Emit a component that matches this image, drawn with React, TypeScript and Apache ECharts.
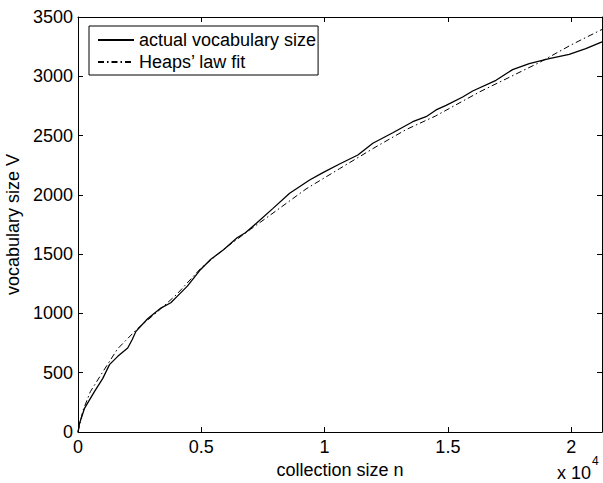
import React, { useEffect, useRef } from "react";
import * as echarts from "echarts";

const actualN = [0, 67, 269, 672, 1000, 1277, 1613, 2016, 2200, 2352, 2823, 3360, 3763, 4032, 4435, 4973, 5376, 5914, 6452, 6788, 7234, 7908, 8583, 9393, 9933, 10607, 11349, 11957, 12766, 13576, 14116, 14521, 14926, 15600, 16005, 16951, 17624, 18300, 19109, 19919, 20594, 21250];
const actualV = [0, 76, 202, 343, 450, 568, 638, 708, 780, 849, 955, 1045, 1090, 1146, 1230, 1371, 1455, 1539, 1638, 1680, 1760, 1886, 2013, 2125, 2187, 2260, 2336, 2435, 2524, 2617, 2659, 2716, 2755, 2825, 2876, 2966, 3056, 3106, 3148, 3185, 3233, 3290];

const fitN = [0, 200, 500, 1000, 1600, 2400, 3200, 4000, 5000, 6000, 7000, 7800, 9250, 10600, 12000, 13300, 14500, 16300, 18700, 20000, 21250];
const fitV = [0, 180, 340, 505, 700, 870, 1010, 1160, 1385, 1556, 1710, 1830, 2050, 2220, 2395, 2550, 2665, 2870, 3115, 3265, 3395];

const xTicks = [0, 5000, 10000, 15000, 20000];
const yTicks = [0, 500, 1000, 1500, 2000, 2500, 3000, 3500];

const seriesNames = ["actual vocabulary size", "Heaps\u2019 law fit"];

const FONT = "Liberation Sans, Arial, Helvetica, sans-serif";

export default function App() {
  const ref = useRef<HTMLDivElement>(null);
  useEffect(() => {
    if (!ref.current) return;
    const chart = echarts.init(ref.current, null, { renderer: "svg" });
    const xMin = xTicks[0];
    const xMax = 21250;
    const yMin = yTicks[0];
    const yMax = yTicks[yTicks.length - 1];
    const axisLine = { show: true, onZero: false, lineStyle: { color: "#000", width: 1 } };
    const axisTick = { show: true, inside: true, length: 5, lineStyle: { color: "#000", width: 1 } };
    const labelStyle = { color: "#000", fontSize: 18, fontFamily: FONT };
    const option: any = {
      animation: false,
      grid: { left: 78, top: 17, right: 1, bottom: 51, containLabel: false, outerBoundsMode: "none" },
      legend: {
        orient: "vertical",
        left: 89,
        top: 26,
        padding: [5, 2, 4, 8],
        itemWidth: 36,
        itemHeight: 18,
        itemGap: 4,
        backgroundColor: "#fff",
        borderColor: "#000",
        borderWidth: 1,
        borderRadius: 0,
        itemStyle: { opacity: 0 },
        textStyle: { color: "#000", fontSize: 18, fontFamily: FONT, padding: [0, 0, 0, 0] },
        data: seriesNames,
      },
      xAxis: [
        {
          type: "value",
          position: "bottom",
          min: xMin,
          max: xMax,
          interval: 5000,
          axisLine,
          axisTick,
          splitLine: { show: false },
          axisLabel: {
            ...labelStyle,
            margin: 6,
            showMaxLabel: false,
            formatter: (v: number) => (xTicks.indexOf(v) >= 0 ? String(v / 10000) : ""),
          },
          name: "collection size n",
          nameLocation: "middle",
          nameGap: 25,
          nameTextStyle: labelStyle,
        },
        {
          type: "value",
          position: "top",
          min: xMin,
          max: xMax,
          interval: 5000,
          axisLine,
          axisTick,
          splitLine: { show: false },
          axisLabel: { show: false },
        },
      ],
      yAxis: [
        {
          type: "value",
          position: "left",
          min: yMin,
          max: yMax,
          interval: 500,
          axisLine,
          axisTick,
          splitLine: { show: false },
          axisLabel: { ...labelStyle, margin: 5, formatter: (v: number) => String(v) },
          name: "vocabulary size V",
          nameLocation: "middle",
          nameGap: 50,
          nameTextStyle: labelStyle,
        },
        {
          type: "value",
          position: "right",
          min: yMin,
          max: yMax,
          interval: 500,
          axisLine,
          axisTick,
          splitLine: { show: false },
          axisLabel: { show: false },
        },
      ],
      graphic: [
        { type: "text", left: 557, top: 464, style: { text: "x 10", fill: "#000", font: `18px ${FONT}` } },
        { type: "text", left: 592, top: 455, style: { text: "4", fill: "#000", font: `12px ${FONT}` } },
      ],
      series: [
        {
          name: seriesNames[0],
          type: "line",
          xAxisIndex: 0,
          yAxisIndex: 0,
          symbol: "none",
          data: actualN.map((n, i) => [n, actualV[i]]),
          lineStyle: { color: "#000", width: 1.3, type: "solid" },
          itemStyle: { color: "#000" },
        },
        {
          name: seriesNames[1],
          type: "line",
          xAxisIndex: 0,
          yAxisIndex: 0,
          symbol: "none",
          data: fitN.map((n, i) => [n, fitV[i]]),
          lineStyle: { color: "#000", width: 1, type: [6, 3, 1.5, 3] },
          itemStyle: { color: "#000" },
        },
      ],
    };
    chart.setOption(option);
    return () => chart.dispose();
  }, []);
  return (
    <div
      ref={ref}
      style={{ position: "fixed", left: 0, top: 0, width: 603, height: 483, background: "#fff" }}
    />
  );
}
